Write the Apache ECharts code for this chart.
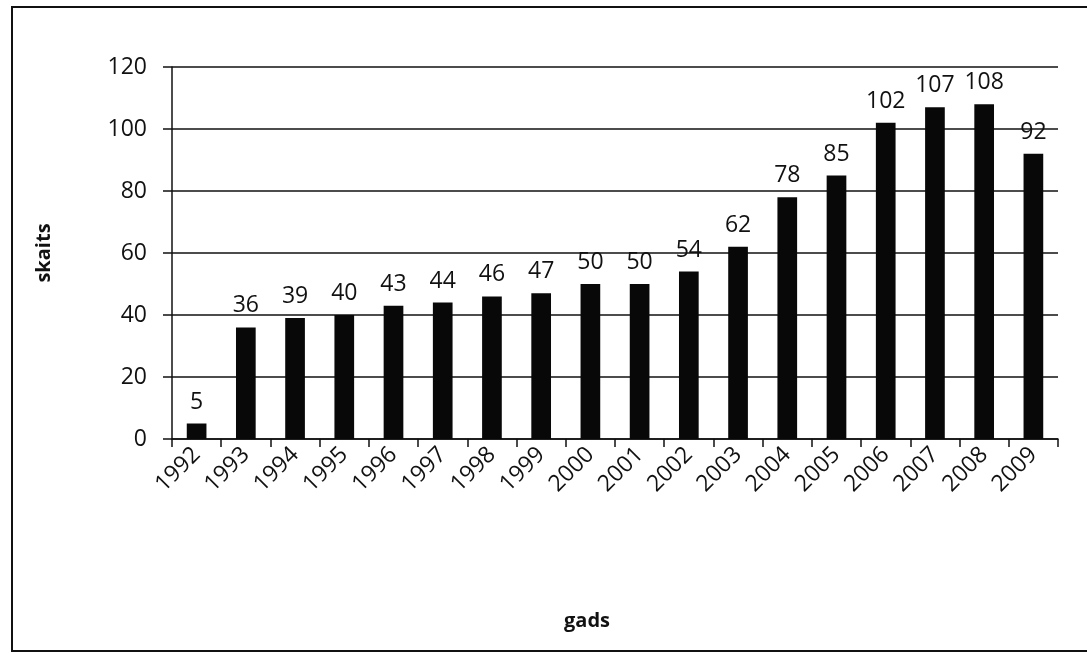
<!DOCTYPE html>
<html>
<head>
<meta charset="utf-8">
<script src="https://cdn.jsdelivr.net/npm/echarts@6/dist/echarts.min.js"></script>
<style>
html,body{margin:0;padding:0;background:#fff;overflow:hidden;width:1087px;height:654px;}
#frame{position:absolute;left:11px;top:6px;width:1076px;height:646px;border-left:2px solid #111;border-top:2px solid #111;border-bottom:2px solid #111;box-sizing:border-box;}
#chart{position:absolute;left:0;top:0;width:1087px;height:654px;}
</style>
</head>
<body>
<div id="frame"></div>
<div id="chart"></div>
<script>
const categories = ['1992','1993','1994','1995','1996','1997','1998','1999','2000','2001','2002','2003','2004','2005','2006','2007','2008','2009'];
const values = [5,36,39,40,43,44,46,47,50,50,54,62,78,85,102,107,108,92];
const yTicks = {min:0, max:120, interval:20};

const font = 'Open Sans';
const chart = echarts.init(document.getElementById('chart'), null, {renderer:'canvas'});
chart.setOption({
  backgroundColor: 'transparent',
  animation: false,
  grid: {left:172, right:29, top:67, bottom:215},
  xAxis: {
    type:'category',
    data: categories,
    name:'gads',
    nameLocation:'middle',
    nameGap:172,
    nameTextStyle:{fontFamily:font, fontWeight:'bold', fontSize:20, color:'#111', padding:[0,56,0,0]},
    axisLine:{lineStyle:{color:'#111', width:1.5}},
    axisTick:{show:true, alignWithLabel:false, length:8, lineStyle:{color:'#111', width:1.5}},
    axisLabel:{rotate:45, fontFamily:font, fontSize:23, color:'#111', margin:12, interval:0}
  },
  yAxis: {
    type:'value',
    min:yTicks.min, max:yTicks.max, interval:yTicks.interval,
    name:'skaits',
    nameLocation:'middle',
    nameGap:118,
    nameTextStyle:{fontFamily:font, fontWeight:'bold', fontSize:20, color:'#111'},
    axisLine:{show:true, lineStyle:{color:'#111', width:1.5}},
    axisTick:{show:true, length:9, lineStyle:{color:'#111', width:1.5}},
    axisLabel:{fontFamily:font, fontSize:23, color:'#111', margin:25},
    splitLine:{show:true, lineStyle:{color:'#111', width:1.5}}
  },
  series: [{
    type:'bar',
    data: values,
    barWidth:'40%',
    itemStyle:{color:'#080808'},
    label:{show:true, position:'top', distance:10, fontFamily:font, fontSize:23, color:'#111'}
  }]
});
</script>
</body>
</html>
